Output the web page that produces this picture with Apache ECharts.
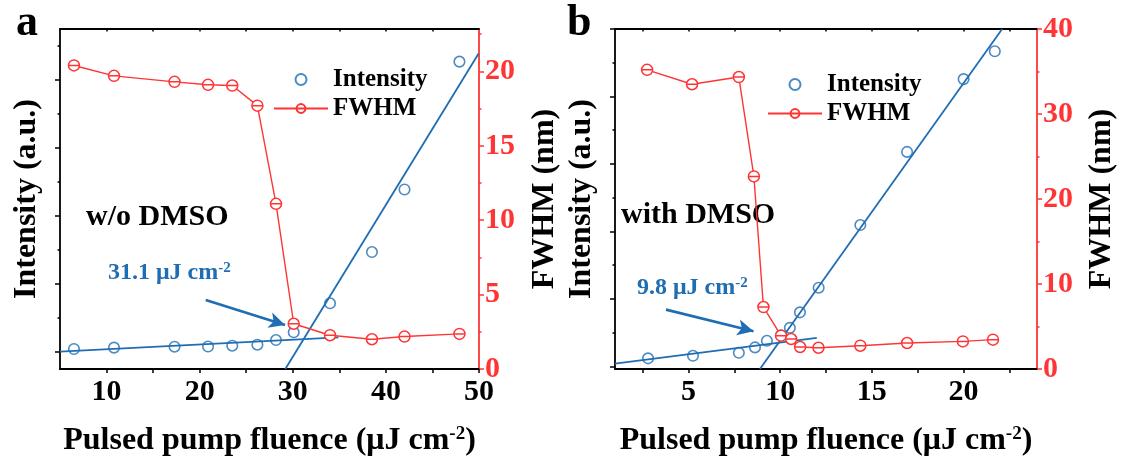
<!DOCTYPE html>
<html><head><meta charset="utf-8">
<script src="https://cdn.jsdelivr.net/npm/echarts@6/dist/echarts.min.js"></script>
<style>html,body{margin:0;padding:0;background:#fff}#c{width:1121px;height:466px}</style>
</head><body><div id="c"></div>
<script>
// ---------- Panel a : w/o DMSO ----------
const fluenceA   = [6.5, 10.8, 17.3, 20.9, 23.5, 26.2, 28.2, 30.1, 34.0, 38.5, 42.0, 47.9];
const intensityA = [0.044, 0.064, 0.078, 0.081, 0.093, 0.107, 0.176, 0.29, 0.716, 1.47, 2.39, 4.27];
const fwhmA      = [20.4, 19.7, 19.3, 19.1, 19.05, 17.7, 11.1, 3.04, 2.27, 2.0, 2.18, 2.36];
const fitLowA    = [[5, 0.005], [34.9, 0.216]];
const fitHighA   = [[29.2, -0.25], [49.96, 4.39]];
const arrowA     = [[20.65, 0.765], [29.17, 0.397]];
const thresholdA = '31.1';
const sampleA    = 'w/o DMSO';

// ---------- Panel b : with DMSO ----------
const fluenceB   = [2.8, 5.25, 7.75, 8.63, 9.28, 10.05, 10.53, 11.08, 12.1, 14.37, 16.92, 20.0, 21.7];
const intensityB = [0.118, 0.156, 0.2, 0.28, 0.378, 0.46, 0.57, 0.8, 1.165, 2.094, 3.178, 4.257, 4.67];
const fluenceFB  = [2.75, 5.2, 7.75, 8.57, 9.09, 10.05, 10.6, 11.09, 12.09, 14.37, 16.92, 19.96, 21.6];
const fwhmB      = [35.2, 33.5, 34.35, 22.66, 7.29, 3.92, 3.53, 2.59, 2.5, 2.74, 3.06, 3.25, 3.45];
const fitLowB    = [[1, 0.04], [12.0, 0.42]];
const fitHighB   = [[8.9, -0.04], [22.1, 5.0]];
const arrowB     = [[3.78, 0.84], [8.55, 0.52]];
const thresholdB = '9.8';
const sampleB    = 'with DMSO';

// ---------- axis ticks / labels ----------
const xLabelsA = [10, 20, 30, 40, 50];
const xTicksA  = [10, 15, 20, 25, 30, 35, 40, 45, 50];
const xTopA    = [10, 15, 20, 25, 30, 35, 40, 45];
const xLabelsB = [5, 10, 15, 20];
const xTicksB  = [2.5, 5, 7.5, 10, 12.5, 15, 17.5, 20, 22.5];
const xTopB    = [2.5, 5, 7.5, 10, 12.5, 15, 17.5, 20, 22.5];
const intMajorA = [0, 1, 2, 3, 4];
const intMajorB = [0, 1, 2, 3, 4, 5];
const intMinor  = [0.5, 1.5, 2.5, 3.5, 4.5];
const fwhmLabelsA = [0, 5, 10, 15, 20];
const fwhmMinorA  = [2.5, 7.5, 12.5, 17.5, 22.5];
const fwhmLabelsB = [0, 10, 20, 30, 40];
const fwhmMinorB  = [5, 15, 25, 35];

const FONT = "'Liberation Serif','Times New Roman',serif";
const BLUE = '#1f6db3';
const RED = '#ff3535';
const BLACK = '#000';
const FWHM_SYMBOL = 'path://M0,10A10,10,0,1,1,20,10A10,10,0,1,1,0,10ZM0,10L20,10';

function zip(xs, ys) { return xs.map((x, i) => [x, ys[i]]); }

const xTitle = {
  name: '{m|Pulsed pump fluence (μJ cm}{s|-2}{m|)}',
  nameLocation: 'middle', nameGap: 56,
  nameTextStyle: { rich: {
    m: { fontFamily: FONT, fontWeight: 'bold', fontSize: 32, color: BLACK },
    s: { fontFamily: FONT, fontWeight: 'bold', fontSize: 19, color: BLACK, verticalAlign: 'top' }
  } }
};

function panelAxes(g, cfg) {
  const xs = [
    Object.assign({
      gridIndex: g, type: 'value', position: 'bottom', min: cfg.xmin, max: cfg.xmax,
      axisLine: { show: true, onZero: false, lineStyle: { color: BLACK, width: 1.8 } },
      axisTick: { show: true, inside: false, length: 4, customValues: cfg.xTicks, lineStyle: { color: BLACK, width: 1.5 } },
      axisLabel: { customValues: cfg.xLabels, fontFamily: FONT, fontWeight: 'bold', fontSize: 30, color: BLACK, margin: 8 },
      splitLine: { show: false }
    }, xTitle),
    {
      gridIndex: g, type: 'value', position: 'top', min: cfg.xmin, max: cfg.xmax,
      axisLine: { show: true, onZero: false, lineStyle: { color: BLACK, width: 1.8 } },
      axisTick: { show: true, inside: true, length: 2.5, customValues: cfg.xTop, lineStyle: { color: BLACK, width: 1.5 } },
      axisLabel: { show: false }, splitLine: { show: false }
    }
  ];
  const ys = [
    {
      gridIndex: g, type: 'value', position: 'left', min: cfg.imin, max: cfg.imax,
      name: 'Intensity (a.u.)', nameLocation: 'middle', nameGap: 17,
      nameTextStyle: { fontFamily: FONT, fontWeight: 'bold', fontSize: 32, color: BLACK },
      axisLine: { show: true, onZero: false, lineStyle: { color: BLACK, width: 1.8 } },
      axisTick: { show: true, inside: false, length: 5, customValues: cfg.intMajor, lineStyle: { color: BLACK, width: 1.5 } },
      axisLabel: { show: false }, splitLine: { show: false }
    },
    {
      gridIndex: g, type: 'value', position: 'left', min: cfg.imin, max: cfg.imax,
      axisLine: { show: false, onZero: false },
      axisTick: { show: true, inside: false, length: 2.5, customValues: intMinor, lineStyle: { color: BLACK, width: 1.5 } },
      axisLabel: { show: false }, splitLine: { show: false }
    },
    {
      gridIndex: g, type: 'value', position: 'right', min: 0, max: cfg.fmax,
      name: 'FWHM (nm)', nameLocation: 'middle', nameGap: cfg.fGap, nameRotate: 90,
      nameTextStyle: { fontFamily: FONT, fontWeight: 'bold', fontSize: 32, color: BLACK },
      axisLine: { show: true, onZero: false, lineStyle: { color: RED, width: 1.8 } },
      axisTick: { show: true, inside: false, length: 5, customValues: cfg.fLabels, lineStyle: { color: RED, width: 1.5 } },
      axisLabel: { customValues: cfg.fLabels, fontFamily: FONT, fontWeight: 'bold', fontSize: 30, color: RED, margin: 6 },
      splitLine: { show: false }
    },
    {
      gridIndex: g, type: 'value', position: 'right', min: 0, max: cfg.fmax,
      axisLine: { show: false, onZero: false },
      axisTick: { show: true, inside: false, length: 2.5, customValues: cfg.fMinor, lineStyle: { color: RED, width: 1.5 } },
      axisLabel: { show: false }, splitLine: { show: false }
    }
  ];
  return { xs, ys };
}

function panelSeries(xi, yi, d) {
  return [
    {
      name: 'fit-low', type: 'line', xAxisIndex: xi, yAxisIndex: yi, data: d.fitLow,
      symbol: 'none', lineStyle: { color: BLUE, width: 1.8 }, z: 3, silent: true,
      markLine: {
        silent: true, animation: false, symbol: ['none', 'arrow'], symbolSize: [12, 16],
        lineStyle: { color: BLUE, width: 2.6, type: 'solid' }, label: { show: false },
        data: [[{ coord: d.arrow[0] }, { coord: d.arrow[1] }]]
      }
    },
    {
      name: 'fit-high', type: 'line', xAxisIndex: xi, yAxisIndex: yi, data: d.fitHigh,
      symbol: 'none', lineStyle: { color: BLUE, width: 1.8 }, z: 3, silent: true, clip: true
    },
    {
      name: 'Intensity', type: 'scatter', xAxisIndex: xi, yAxisIndex: yi, data: zip(d.x, d.int),
      symbol: 'circle', symbolSize: 10.5,
      itemStyle: { color: 'rgba(255,255,255,0)', borderColor: BLUE, borderWidth: 1.6 }, z: 4
    },
    {
      name: 'FWHM', type: 'line', xAxisIndex: xi, yAxisIndex: yi + 2, data: zip(d.xf, d.fwhm),
      symbol: FWHM_SYMBOL, symbolSize: 11, symbolKeepAspect: true, showAllSymbol: true,
      lineStyle: { color: RED, width: 1.4 },
      itemStyle: { color: '#fff', borderColor: RED, borderWidth: 1.5 }, z: 5
    }
  ];
}

const A = panelAxes(0, { xmin: 5, xmax: 50, xTicks: xTicksA, xTop: xTopA, xLabels: xLabelsA,
  imin: -0.25, imax: 4.75, intMajor: intMajorA, fmax: 22.85, fLabels: fwhmLabelsA, fMinor: fwhmMinorA, fGap: 50 });
const B = panelAxes(1, { xmin: 1, xmax: 24, xTicks: xTicksB, xTop: xTopB, xLabels: xLabelsB,
  imin: -0.04, imax: 5, intMajor: intMajorB, fmax: 40, fLabels: fwhmLabelsB, fMinor: fwhmMinorB, fGap: 49 });

const legendBase = {
  orient: 'vertical', itemWidth: 54, itemHeight: 11, itemGap: 4,
  textStyle: { fontFamily: FONT, fontWeight: 'bold', fontSize: 25, color: BLACK },
  data: ['Intensity', 'FWHM'], selectedMode: false
};

function label(x, y, main, color, size, supSize) {
  return {
    type: 'text', x: x, y: y, silent: true,
    style: {
      text: supSize ? '{m|' + main + '}{s|-2}' : main,
      font: 'bold ' + size + 'px ' + FONT, fill: color,
      textVerticalAlign: 'middle', verticalAlign: 'middle',
      rich: supSize ? {
        m: { fontFamily: FONT, fontWeight: 'bold', fontSize: size, fill: color, color: color },
        s: { fontFamily: FONT, fontWeight: 'bold', fontSize: supSize, fill: color, color: color, verticalAlign: 'top' }
      } : undefined
    }
  };
}

const option = {
  animation: false,
  backgroundColor: '#fff',
  grid: [
    { left: 60, top: 29, width: 419, height: 340 },
    { left: 615, top: 29, width: 422, height: 340 }
  ],
  xAxis: [...A.xs, ...B.xs],
  yAxis: [...A.ys, ...B.ys],
  legend: [
    Object.assign({ left: 268, top: 62 }, legendBase),
    Object.assign({ left: 762, top: 67 }, legendBase)
  ],
  series: [
    ...panelSeries(0, 0, { x: fluenceA, int: intensityA, xf: fluenceA, fwhm: fwhmA, fitLow: fitLowA, fitHigh: fitHighA, arrow: arrowA }),
    ...panelSeries(2, 4, { x: fluenceB, int: intensityB, xf: fluenceFB, fwhm: fwhmB, fitLow: fitLowB, fitHigh: fitHighB, arrow: arrowB })
  ],
  graphic: [
    label(16, 24, 'a', BLACK, 44),
    label(567, 24, 'b', BLACK, 44),
    label(86, 217, sampleA, BLACK, 30),
    label(621, 215, sampleB, BLACK, 30),
    label(108, 273, thresholdA + ' μJ cm', BLUE, 24, 15),
    label(637, 288, thresholdB + ' μJ cm', BLUE, 24, 15)
  ]
};

const chart = echarts.init(document.getElementById('c'), null, { renderer: 'canvas' });
chart.setOption(option);
</script>
</body></html>
